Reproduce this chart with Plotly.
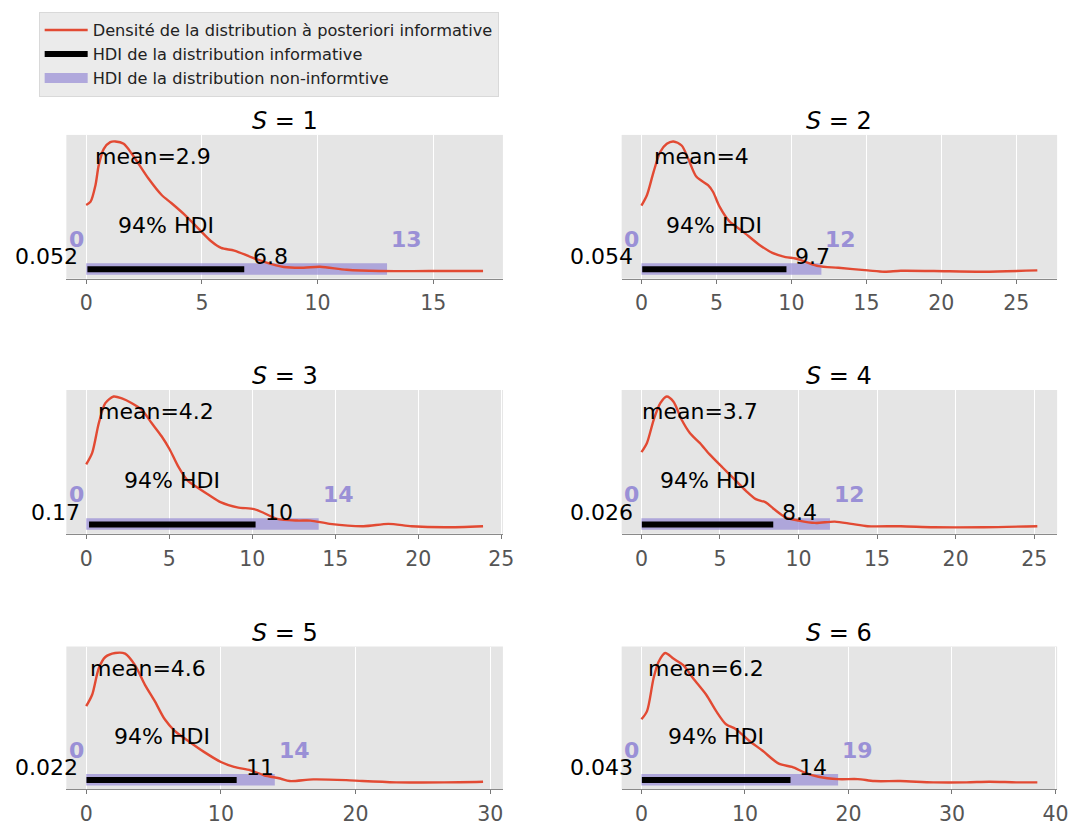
import plotly.graph_objects as go
from plotly.subplots import make_subplots

# densité à posteriori informative, y normalisé au pic de chaque panneau
dens_x_1 = [0, 0.19, 0.40, 0.54, 0.76, 1.04, 1.26, 1.62, 1.97, 2.69, 3.26, 3.69, 4.26, 4.83, 5.4,
            5.83, 6.4, 7.12, 7.69, 8.54, 9.4, 10.1, 11.25, 12.67, 14.8, 17.15]
dens_y_1 = [0.514, 0.539, 0.665, 0.817, 0.944, 0.995, 1.0, 0.982, 0.906, 0.716, 0.59, 0.527, 0.438,
            0.337, 0.236, 0.185, 0.165, 0.115, 0.079, 0.039, 0.033, 0.041, 0.018, 0.008, 0.008, 0.008]

dens_x_2 = [0, 0.37, 0.81, 1.25, 1.69, 2.13, 2.68, 3.12, 3.67, 4.44, 4.77, 5.21, 5.87, 6.75, 7.85,
            8.73, 9.61, 10.27, 10.93, 11.81, 13.13, 15.1, 16.2, 17.3, 19.5, 22.8, 26.4]
dens_y_2 = [0.509, 0.59, 0.767, 0.919, 0.982, 1.0, 0.969, 0.868, 0.729, 0.665, 0.615, 0.501, 0.388,
            0.312, 0.21, 0.147, 0.115, 0.104, 0.079, 0.046, 0.033, 0.013, 0.003, 0.01, 0.008, 0.003, 0.013]

dens_x_3 = [0, 0.36, 0.76, 1.15, 1.65, 2.15, 2.75, 3.35, 3.94, 4.54, 5.03, 5.53, 6.13, 6.72, 7.32,
            8.12, 9.11, 10.1, 10.7, 11.5, 12.7, 13.5, 14.67, 16.7, 18.2, 19.6, 21.6, 23.9]
dens_y_3 = [0.481, 0.569, 0.797, 0.949, 1.0, 0.986, 0.949, 0.898, 0.797, 0.696, 0.595, 0.468, 0.354,
            0.303, 0.253, 0.19, 0.152, 0.139, 0.109, 0.064, 0.051, 0.051, 0.026, 0.008, 0.026, 0.008,
            0.0, 0.008]

dens_x_4 = [0, 0.35, 0.78, 1.2, 1.61, 2.03, 2.56, 3.08, 3.71, 4.34, 5.18, 6.02, 6.65, 7.28, 7.91,
            8.43, 9.17, 10.01, 11.06, 12.3, 13.36, 14.4, 16.5, 18.6, 21.8, 25.2]
dens_y_4 = [0.574, 0.645, 0.822, 0.949, 1.0, 0.961, 0.822, 0.721, 0.645, 0.557, 0.455, 0.354, 0.278,
            0.215, 0.19, 0.139, 0.076, 0.051, 0.033, 0.043, 0.026, 0.008, 0.008, 0.0, 0.0, 0.008]

dens_x_5 = [0, 0.44, 0.93, 1.42, 2.15, 2.89, 3.62, 4.36, 5.1, 5.83, 6.57, 7.55, 8.77, 10.0, 10.97,
            12.2, 13.2, 14.4, 15.1, 16.85, 19.3, 20.5, 23.0, 26.6, 29.46]
dens_y_5 = [0.59, 0.678, 0.881, 0.969, 1.0, 0.995, 0.906, 0.754, 0.627, 0.489, 0.4, 0.324, 0.236,
            0.16, 0.122, 0.096, 0.058, 0.033, 0.013, 0.026, 0.02, 0.013, 0.003, 0.003, 0.008]

dens_x_6 = [0, 0.54, 1.17, 1.65, 2.29, 3.08, 4.04, 4.99, 6.26, 7.22, 8.17, 9.13, 10.4, 11.68, 13.27,
            14.55, 15.82, 17.1, 19.0, 20.9, 22.5, 25.0, 28.2, 31.4, 33.6, 36.2, 38.25]
dens_y_6 = [0.489, 0.552, 0.805, 0.931, 1.0, 0.957, 0.906, 0.805, 0.678, 0.552, 0.451, 0.413, 0.324,
            0.248, 0.147, 0.122, 0.077, 0.046, 0.028, 0.028, 0.013, 0.013, 0.003, 0.003, 0.008,
            0.003, 0.003]

dens_x = [dens_x_1, dens_x_2, dens_x_3, dens_x_4, dens_x_5, dens_x_6]
dens_y = [dens_y_1, dens_y_2, dens_y_3, dens_y_4, dens_y_5, dens_y_6]

s_values = [1, 2, 3, 4, 5, 6]
means = [2.9, 4.0, 4.2, 3.7, 4.6, 6.2]
hdi_inf_low = [0.052, 0.054, 0.17, 0.026, 0.022, 0.043]
hdi_inf_high = [6.83, 9.67, 10.2, 8.39, 11.17, 14.4]
hdi_flat_low = [0, 0, 0, 0, 0, 0]
hdi_flat_high = [13.0, 12.0, 14.0, 12.0, 14.0, 19.0]

RED = "#E24A33"
LAV = "rgba(152,142,213,0.72)"
LAV_TXT = "#9A90D6"
FONT = "DejaVu Sans"

# the page body adds an 8px margin, so the figure is 8px smaller on each side
W, H = 1076, 818
x_doms = [(0.0548, 0.4647), (0.5762, 0.9851)]
y_doms = [(0.6663, 0.8435), (0.3517, 0.5290), (0.0367, 0.2127)]

fig = make_subplots(rows=3, cols=2)


def fmt(v):
    return f"{v:.2g}"


for i in range(6):
    r, c = i // 2 + 1, i % 2 + 1
    first = i == 0
    fig.add_trace(go.Scatter(x=[hdi_flat_low[i], hdi_flat_high[i]], y=[0.024, 0.024], mode="lines",
                             line=dict(color=LAV, width=11.5), name="HDI de la distribution non-informtive",
                             legendrank=3, showlegend=first, hoverinfo="skip"), row=r, col=c)
    fig.add_trace(go.Scatter(x=[hdi_inf_low[i], hdi_inf_high[i]], y=[0.021, 0.021], mode="lines",
                             line=dict(color="black", width=6), name="HDI de la distribution informative",
                             legendrank=2, showlegend=first, hoverinfo="skip"), row=r, col=c)
    fig.add_trace(go.Scatter(x=dens_x[i], y=dens_y[i], mode="lines",
                             line=dict(color=RED, width=2.4, shape="spline", smoothing=0.8),
                             name="Densité de la distribution à posteriori informative",
                             legendrank=1, showlegend=first), row=r, col=c)

    xmax = max(dens_x[i])
    dt = 5 if xmax < 28 else 10
    xa = "x" if i == 0 else f"x{i + 1}"
    ya = "y" if i == 0 else f"y{i + 1}"
    fig.update_xaxes(row=r, col=c, domain=x_doms[c - 1], range=[-0.05 * xmax, 1.05 * xmax],
                     dtick=dt, tick0=0, showgrid=True, gridcolor="white", gridwidth=1,
                     zeroline=False, showline=True, linecolor="#8a8a8a", linewidth=1.3,
                     ticks="outside", ticklen=4, tickcolor="#777777", ticklabelstandoff=2,
                     tickfont=dict(family=FONT, size=20.5, color="#555555"))
    fig.update_yaxes(row=r, col=c, domain=y_doms[r - 1], range=[-0.05, 1.05],
                     visible=False, showgrid=False, zeroline=False)

    def txt(x, y, s, anchor, xshift=0, color="black", bold=False):
        fig.add_annotation(x=x, y=y, xref=xa, yref=ya, text=f"<b>{s}</b>" if bold else s,
                           showarrow=False, xanchor=anchor, yanchor="bottom", xshift=xshift, yshift=-9,
                           font=dict(family=FONT, size=22, color=color))

    txt(means[i], 0.84, f"mean={fmt(means[i])}", "center")
    txt((hdi_inf_low[i] + hdi_inf_high[i]) / 2, 0.315, "94% HDI", "center")
    txt(hdi_inf_low[i], 0.0735, fmt(hdi_inf_low[i]), "right", xshift=-7)
    txt(hdi_inf_high[i], 0.0735, fmt(hdi_inf_high[i]), "left", xshift=7)
    txt(hdi_flat_low[i], 0.21, fmt(hdi_flat_low[i]), "right", xshift=0, color=LAV_TXT, bold=True)
    txt(hdi_flat_high[i], 0.21, fmt(hdi_flat_high[i]), "left", xshift=2, color=LAV_TXT, bold=True)

    xd, yd = x_doms[c - 1], y_doms[r - 1]
    fig.add_annotation(x=(xd[0] + xd[1]) / 2, y=yd[1], xref="paper", yref="paper",
                       text=f"<i>S</i> = {s_values[i]}", showarrow=False, xanchor="center",
                       yanchor="bottom", yshift=-2, font=dict(family=FONT, size=24, color="black"))

fig.update_layout(
    width=W, height=H, margin=dict(l=0, r=0, t=0, b=0),
    paper_bgcolor="white", plot_bgcolor="#E5E5E5",
    font=dict(family=FONT, color="black"),
    legend=dict(x=0.0288, y=0.9951, xanchor="left", yanchor="top", bgcolor="#EBEBEB",
                bordercolor="#D9D9D9", borderwidth=1, itemwidth=43,
                font=dict(family=FONT, size=16.2, color="#222222"), tracegroupgap=0),
)

fig.write_html("out.html")
